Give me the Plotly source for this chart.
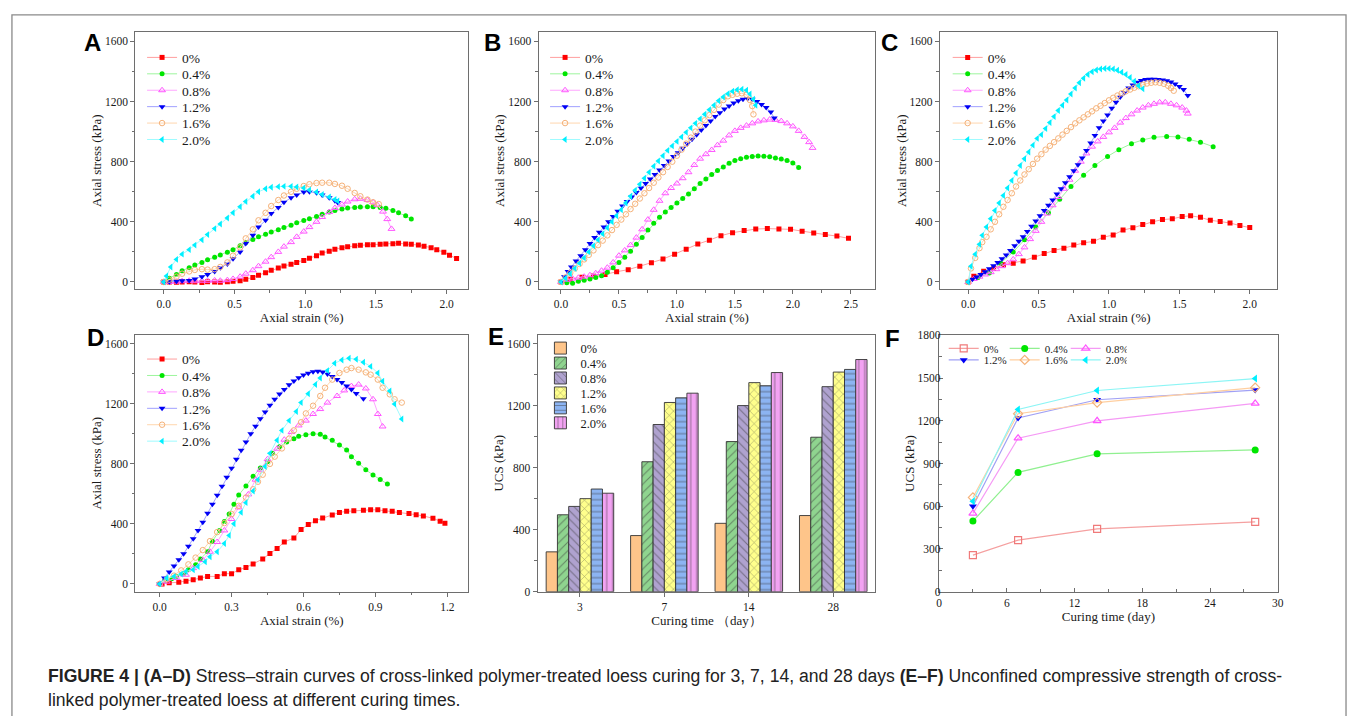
import plotly.graph_objects as go

W, H = 1355, 716
SERIF = "Liberation Serif, Times New Roman, serif"
SANS = "Liberation Sans, Arial, sans-serif"
FRAME = "#6e6e6e"
TXT = "#1a1a1a"

# ---------------- data ----------------
series_names = ["0%", "0.4%", "0.8%", "1.2%", "1.6%", "2.0%"]

# Panel A (3 days)
A_x_00 = [0.00,0.04,0.09,0.13,0.18,0.22,0.27,0.31,0.36,0.40,0.45,0.49,0.54,0.58,0.63,0.67,0.72,0.76,0.81,0.85,0.90,0.94,0.99,1.03,1.08,1.12,1.17,1.21,1.26,1.30,1.35,1.39,1.44,1.48,1.53,1.57,1.62,1.66,1.71,1.75,1.80,1.84,1.89,1.93,1.98,2.02,2.07]
A_y_00 = [0,0,-2,0,2,0,-3,2,0,-2,2,4,8,18,30,45,62,78,92,106,118,130,142,158,175,192,205,218,228,235,240,244,247,248,250,252,254,258,252,250,246,238,228,214,198,178,156]
A_x_04 = [0.00,0.04,0.09,0.13,0.18,0.22,0.27,0.31,0.36,0.40,0.45,0.49,0.54,0.58,0.63,0.67,0.72,0.76,0.81,0.85,0.90,0.94,0.99,1.03,1.08,1.12,1.17,1.21,1.26,1.30,1.35,1.39,1.44,1.48,1.53,1.57,1.62,1.66,1.71,1.75]
A_y_04 = [0,25,50,75,95,112,130,148,165,180,198,215,240,262,282,300,318,333,348,362,378,393,408,420,435,450,465,475,485,492,496,498,500,500,496,490,475,460,440,418]
A_x_08 = [0.00,0.04,0.09,0.13,0.18,0.22,0.27,0.31,0.36,0.40,0.45,0.49,0.54,0.58,0.63,0.67,0.72,0.76,0.81,0.85,0.90,0.94,0.99,1.03,1.08,1.12,1.17,1.21,1.26,1.30,1.35,1.39,1.44,1.48,1.51,1.55,1.58,1.61]
A_y_08 = [0,0,2,5,8,5,8,8,10,8,12,20,35,55,78,105,135,165,200,235,265,300,335,365,400,432,465,492,515,535,550,553,545,530,512,468,418,353]
A_x_12 = [0.00,0.04,0.09,0.13,0.18,0.22,0.27,0.31,0.36,0.40,0.45,0.49,0.54,0.58,0.63,0.67,0.72,0.76,0.81,0.85,0.90,0.94,0.99,1.03,1.08,1.12,1.17,1.21,1.23]
A_y_12 = [0,2,5,8,10,20,35,50,70,95,120,155,200,255,310,365,410,455,495,530,560,578,598,600,593,578,560,540,528]
A_x_16 = [0.00,0.04,0.09,0.13,0.18,0.22,0.27,0.31,0.36,0.40,0.45,0.49,0.54,0.58,0.63,0.67,0.72,0.76,0.81,0.85,0.90,0.94,0.99,1.03,1.08,1.12,1.17,1.21,1.26,1.30,1.35,1.39,1.44,1.48,1.52]
A_y_16 = [0,15,35,55,70,80,85,82,85,100,130,175,230,290,350,410,460,505,545,575,600,620,638,650,658,660,660,652,640,620,592,570,548,530,518]
A_x_20 = [0.00,0.02,0.05,0.09,0.13,0.18,0.22,0.27,0.31,0.36,0.40,0.45,0.49,0.54,0.58,0.63,0.67,0.72,0.76,0.81,0.85,0.90,0.94,0.99,1.03,1.08,1.12,1.17,1.21,1.23]
A_y_20 = [0,40,100,150,185,215,245,280,315,355,385,425,460,500,535,570,600,620,630,634,636,636,632,625,612,598,582,565,548,538]

# Panel B (7 days)
B_x_00 = [0.00,0.08,0.18,0.28,0.38,0.48,0.58,0.68,0.78,0.88,0.98,1.08,1.18,1.28,1.38,1.48,1.58,1.68,1.78,1.88,1.98,2.08,2.18,2.28,2.38,2.48]
B_y_00 = [0,18,32,40,50,68,82,105,128,152,185,218,252,278,308,328,342,352,355,352,350,338,325,315,305,290]
B_x_04 = [0.00,0.05,0.10,0.15,0.20,0.25,0.30,0.35,0.40,0.45,0.50,0.55,0.60,0.65,0.70,0.75,0.80,0.85,0.90,0.95,1.00,1.05,1.10,1.15,1.20,1.25,1.30,1.35,1.40,1.45,1.50,1.55,1.60,1.65,1.70,1.75,1.80,1.85,1.90,1.95,2.00,2.05]
B_y_04 = [0,-5,-8,5,12,20,30,42,65,95,130,165,205,250,295,345,390,430,465,495,525,555,585,620,655,685,715,742,765,790,808,820,830,835,838,837,833,825,818,808,792,762]
B_x_08 = [0.00,0.05,0.10,0.15,0.20,0.25,0.30,0.35,0.40,0.45,0.50,0.55,0.60,0.65,0.70,0.75,0.80,0.85,0.90,0.95,1.00,1.05,1.10,1.15,1.20,1.25,1.30,1.35,1.40,1.45,1.50,1.55,1.60,1.65,1.70,1.75,1.80,1.85,1.90,1.95,2.00,2.05,2.10,2.14,2.17]
B_y_08 = [0,15,22,28,35,45,58,75,95,130,175,210,245,295,350,415,480,540,590,625,655,690,730,778,820,850,878,910,940,975,1005,1025,1040,1055,1068,1075,1080,1078,1070,1055,1035,1005,965,930,892]
B_x_12 = [0.00,0.03,0.06,0.09,0.13,0.17,0.21,0.25,0.29,0.33,0.37,0.41,0.45,0.49,0.53,0.57,0.61,0.65,0.69,0.73,0.77,0.81,0.85,0.89,0.93,0.97,1.01,1.05,1.09,1.13,1.17,1.21,1.25,1.29,1.33,1.37,1.41,1.45,1.49,1.53,1.57,1.61,1.65,1.69,1.73,1.77,1.81,1.84]
B_y_12 = [0,35,70,100,140,175,215,255,295,330,365,400,435,470,505,535,565,595,625,655,685,715,745,775,805,835,860,890,920,950,980,1010,1040,1070,1100,1125,1150,1170,1190,1205,1215,1220,1215,1200,1180,1160,1130,1090]
B_x_16 = [0.00,0.04,0.08,0.12,0.16,0.20,0.24,0.28,0.32,0.36,0.40,0.44,0.48,0.52,0.56,0.60,0.64,0.68,0.72,0.76,0.80,0.84,0.88,0.92,0.96,1.00,1.04,1.08,1.12,1.16,1.20,1.24,1.28,1.32,1.36,1.40,1.44,1.48,1.52,1.56,1.60,1.63,1.65,1.66]
B_y_16 = [0,30,60,90,120,150,180,210,245,275,310,345,380,415,450,485,520,555,590,625,660,695,730,765,800,840,880,920,960,1000,1040,1075,1110,1145,1180,1210,1235,1245,1252,1255,1245,1210,1170,1115]
B_x_20 = [0.00,0.04,0.08,0.12,0.16,0.20,0.24,0.28,0.32,0.36,0.40,0.44,0.48,0.52,0.56,0.60,0.64,0.68,0.72,0.76,0.80,0.84,0.88,0.92,0.96,1.00,1.04,1.08,1.12,1.16,1.20,1.24,1.28,1.32,1.36,1.40,1.44,1.48,1.52,1.56,1.60,1.63,1.66,1.68]
B_y_20 = [0,25,55,90,125,160,200,240,280,320,360,400,440,480,525,570,610,650,690,730,770,805,840,875,905,935,965,995,1025,1055,1085,1115,1145,1175,1205,1230,1252,1268,1278,1282,1275,1250,1215,1175]

# Panel C (14 days)
C_x_00 = [0.00,0.04,0.11,0.18,0.25,0.32,0.39,0.47,0.54,0.61,0.68,0.75,0.82,0.89,0.96,1.03,1.10,1.17,1.24,1.31,1.38,1.45,1.52,1.58,1.65,1.72,1.79,1.86,1.93,2.00]
C_y_00 = [0,38,72,90,115,125,140,165,190,210,225,245,260,270,298,312,345,360,382,400,415,420,435,440,430,410,402,392,375,362]
C_x_04 = [0.00,0.07,0.15,0.23,0.32,0.40,0.48,0.57,0.65,0.73,0.82,0.90,0.99,1.07,1.16,1.24,1.32,1.41,1.49,1.57,1.65,1.74]
C_y_04 = [0,30,60,125,200,280,365,460,550,635,710,775,835,880,920,945,962,968,965,950,930,900]
C_x_08 = [0.00,0.04,0.08,0.12,0.16,0.20,0.24,0.28,0.32,0.36,0.40,0.44,0.48,0.52,0.56,0.60,0.64,0.68,0.72,0.76,0.80,0.84,0.88,0.92,0.96,1.00,1.04,1.08,1.12,1.16,1.20,1.24,1.28,1.32,1.36,1.40,1.44,1.48,1.52,1.55,1.56]
C_y_08 = [0,20,35,50,65,85,105,125,150,185,230,285,340,400,455,510,565,620,680,740,800,855,900,935,965,995,1025,1060,1090,1115,1140,1160,1175,1185,1195,1195,1185,1175,1160,1140,1120]
C_x_12 = [0.00,0.03,0.06,0.09,0.12,0.15,0.18,0.21,0.24,0.27,0.30,0.33,0.36,0.39,0.42,0.45,0.48,0.51,0.54,0.57,0.60,0.63,0.66,0.69,0.72,0.75,0.78,0.81,0.84,0.87,0.90,0.93,0.96,0.99,1.02,1.05,1.08,1.11,1.14,1.17,1.20,1.23,1.26,1.29,1.32,1.35,1.38,1.41,1.44,1.47,1.50,1.53,1.56]
C_y_12 = [0,18,33,50,68,88,108,130,155,180,210,240,270,300,335,370,405,440,475,510,545,585,620,660,700,740,780,825,875,925,975,1025,1070,1110,1155,1195,1230,1260,1290,1310,1328,1340,1346,1349,1349,1347,1344,1338,1330,1316,1300,1280,1240]
C_x_16 = [0.00,0.02,0.05,0.08,0.10,0.13,0.16,0.19,0.22,0.25,0.28,0.31,0.34,0.37,0.40,0.43,0.46,0.49,0.52,0.55,0.58,0.61,0.64,0.67,0.70,0.73,0.76,0.79,0.82,0.85,0.88,0.91,0.94,0.97,1.00,1.03,1.06,1.09,1.12,1.15,1.18,1.21,1.24,1.27,1.30,1.33,1.36,1.39,1.42,1.44,1.46]
C_y_16 = [0,90,160,225,265,300,350,400,450,500,545,590,635,675,715,750,785,820,850,880,905,930,955,980,1005,1030,1055,1075,1095,1115,1135,1155,1172,1190,1208,1225,1240,1255,1268,1280,1292,1302,1312,1320,1325,1328,1325,1318,1305,1290,1272]
C_x_20 = [0.00,0.02,0.05,0.08,0.10,0.13,0.16,0.19,0.22,0.25,0.28,0.31,0.34,0.37,0.40,0.43,0.46,0.49,0.52,0.55,0.58,0.61,0.64,0.67,0.70,0.73,0.76,0.79,0.82,0.85,0.88,0.91,0.94,0.97,1.00,1.03,1.06,1.09,1.12,1.15,1.18,1.21,1.24]
C_y_20 = [0,105,185,250,310,365,420,475,525,575,625,675,725,775,820,865,910,955,980,1020,1060,1100,1140,1175,1210,1250,1290,1325,1355,1380,1398,1410,1416,1420,1420,1416,1408,1395,1380,1360,1335,1305,1285]

# Panel D (28 days)
D_x_00 = [0.01,0.04,0.08,0.11,0.14,0.17,0.20,0.24,0.27,0.30,0.33,0.36,0.39,0.43,0.46,0.49,0.52,0.56,0.59,0.62,0.65,0.68,0.72,0.75,0.78,0.81,0.85,0.88,0.91,0.94,0.97,1.00,1.04,1.07,1.10,1.14,1.17,1.19]
D_y_00 = [0,7,11,17,28,39,50,50,68,68,94,109,133,166,203,236,279,306,362,395,421,439,459,476,483,487,491,493,493,487,483,476,469,461,452,437,417,404]
D_x_04 = [0.00,0.02,0.05,0.07,0.10,0.12,0.15,0.17,0.20,0.22,0.25,0.27,0.29,0.31,0.33,0.36,0.39,0.42,0.45,0.47,0.50,0.53,0.56,0.58,0.61,0.64,0.67,0.69,0.72,0.75,0.78,0.80,0.83,0.86,0.89,0.92,0.95]
D_y_04 = [0,22,35,50,68,94,127,166,214,284,356,415,465,530,592,651,716,771,814,869,913,945,967,983,993,1000,996,978,956,924,891,847,803,760,725,695,665]
D_x_08 = [0.00,0.03,0.07,0.11,0.14,0.18,0.21,0.24,0.27,0.30,0.33,0.37,0.40,0.42,0.45,0.49,0.52,0.55,0.58,0.61,0.64,0.67,0.70,0.74,0.77,0.80,0.83,0.86,0.89,0.91,0.93]
D_y_08 = [0,15,39,61,105,159,214,279,356,432,509,596,694,760,830,900,960,1011,1055,1087,1131,1164,1207,1251,1288,1317,1327,1301,1229,1131,1048]
D_x_12 = [0.00,0.02,0.04,0.06,0.08,0.10,0.12,0.14,0.16,0.18,0.20,0.22,0.24,0.26,0.28,0.30,0.32,0.34,0.36,0.38,0.40,0.42,0.44,0.46,0.48,0.50,0.52,0.54,0.56,0.58,0.60,0.62,0.64,0.66,0.68,0.70,0.72,0.74,0.76,0.78,0.80,0.82,0.85]
D_y_12 = [0,40,80,120,160,200,250,300,355,410,470,530,590,650,710,770,830,890,945,1000,1050,1100,1145,1190,1230,1265,1295,1325,1350,1372,1390,1402,1412,1415,1410,1398,1380,1360,1340,1318,1295,1268,1232]
D_x_16 = [0.00,0.03,0.06,0.09,0.12,0.15,0.18,0.21,0.24,0.27,0.30,0.33,0.36,0.39,0.41,0.43,0.46,0.48,0.51,0.54,0.56,0.59,0.61,0.64,0.67,0.69,0.72,0.75,0.78,0.80,0.83,0.86,0.88,0.91,0.93,0.96,0.98,1.01]
D_y_16 = [0,30,55,90,130,175,225,285,345,405,465,520,575,630,680,727,799,847,902,967,1022,1076,1135,1186,1251,1306,1360,1404,1426,1437,1426,1408,1393,1360,1306,1262,1229,1207]
D_x_20 = [0.00,0.03,0.06,0.09,0.11,0.14,0.16,0.19,0.21,0.24,0.27,0.29,0.31,0.34,0.36,0.39,0.41,0.44,0.46,0.49,0.51,0.54,0.57,0.59,0.62,0.65,0.67,0.70,0.73,0.76,0.79,0.82,0.85,0.88,0.91,0.93,0.96,0.98,1.01]
D_y_20 = [0,39,50,66,83,94,116,148,181,214,269,323,400,476,541,618,694,782,869,956,1022,1087,1148,1207,1266,1328,1371,1420,1469,1491,1502,1496,1476,1448,1404,1349,1284,1197,1098]

# Panels E / F : UCS vs curing time
curing_days = [3, 7, 14, 28]
curing_labels = ["3", "7", "14", "28"]
ucs_00 = [257, 362, 441, 491]
ucs_04 = [496, 838, 968, 996]
ucs_08 = [550, 1078, 1200, 1322]
ucs_12 = [600, 1220, 1348, 1416]
ucs_16 = [662, 1250, 1328, 1433]
ucs_20 = [635, 1280, 1413, 1497]

# ---------------- styles ----------------
marker_colors = ["#FF0000", "#00E600", "#FF55FF", "#0000F5", "#F5B27A", "#00F0FF"]
line_colors = ["#FF9E9E", "#9EF59E", "#FFA6FF", "#A0A0FF", "#FFD6AE", "#9EFBFF"]
curve_symbols = ["square", "circle", "triangle-up-open", "triangle-down", "circle-open", "triangle-left"]
curve_sizes = [5, 5, 6, 6, 5.5, 6]
f_symbols = ["square-open", "circle", "triangle-up-open", "triangle-down", "diamond-open", "triangle-left"]
f_marker_colors = ["#F07A7A", "#00E600", "#FF55FF", "#0000F5", "#F5B27A", "#00F0FF"]
f_line_colors = ["#F5A0A0", "#90F090", "#F59AF5", "#A0A0F5", "#FFCFA0", "#8CF5F5"]
bar_fills = ["#FEC58A", "#8FD48F", "#AFA2CF", "#FFFF8C", "#8CB4F2", "#F2A2F2"]
bar_patterns = ["", "/", "\\", "x", "-", "|"]

panel_curves = {
    "A": [(A_x_00, A_y_00), (A_x_04, A_y_04), (A_x_08, A_y_08), (A_x_12, A_y_12), (A_x_16, A_y_16), (A_x_20, A_y_20)],
    "B": [(B_x_00, B_y_00), (B_x_04, B_y_04), (B_x_08, B_y_08), (B_x_12, B_y_12), (B_x_16, B_y_16), (B_x_20, B_y_20)],
    "C": [(C_x_00, C_y_00), (C_x_04, C_y_04), (C_x_08, C_y_08), (C_x_12, C_y_12), (C_x_16, C_y_16), (C_x_20, C_y_20)],
    "D": [(D_x_00, D_y_00), (D_x_04, D_y_04), (D_x_08, D_y_08), (D_x_12, D_y_12), (D_x_16, D_y_16), (D_x_20, D_y_20)],
}
ucs_series = [ucs_00, ucs_04, ucs_08, ucs_12, ucs_16, ucs_20]

# panel boxes in pixels: left, top, right, bottom
boxes = {
    "A": (133.3, 26.7, 468.0, 288.0),
    "B": (539.3, 26.7, 878.0, 288.0),
    "C": (943.3, 26.7, 1283.0, 288.0),
    "D": (133.3, 334.3, 468.3, 595.7),
    "E": (538.3, 334.3, 878.3, 595.7),
    "F": (942.3, 335.0, 1283.3, 595.7),
}
axis_ids = {"A": "", "B": "2", "C": "3", "D": "4", "E": "5", "F": "6"}


def dom(box):
    x0, y0, x1, y1 = box
    return [x0 / W, x1 / W], [1 - y1 / H, 1 - y0 / H]


legends = {}
_leg_count = [0]


def new_legend(x_px, y_px, size, orientation="v", entrywidth=None):
    _leg_count[0] += 1
    name = "legend" if _leg_count[0] == 1 else "legend%d" % _leg_count[0]
    d = dict(x=x_px / W, y=1 - y_px / H, xanchor="left", yanchor="middle",
             bgcolor="rgba(0,0,0,0)", borderwidth=0, orientation=orientation,
             font=dict(family=SERIF, size=size, color=TXT), tracegroupgap=0)
    if entrywidth is not None:
        d["entrywidth"] = entrywidth
        d["entrywidthmode"] = "pixels"
    legends[name] = d
    return name


fig = go.Figure()

# ---- curve panels A-D ----
legend_x = {"A": 140.0, "B": 545.7, "C": 951.0, "D": 140.0}
legend_y0 = {"A": 52.5, "B": 52.5, "C": 52.5, "D": 359.3}
legend_dy = 16.7
for p, curves in panel_curves.items():
    aid = axis_ids[p]
    for i, (xs, ys) in enumerate(curves):
        lg = new_legend(legend_x[p], legend_y0[p] + legend_dy * i, 13.5)
        fig.add_trace(go.Scatter(
            x=xs, y=ys, mode="lines+markers", name=series_names[i],
            line=dict(color=line_colors[i], width=1),
            marker=dict(symbol=curve_symbols[i], size=curve_sizes[i], color=marker_colors[i],
                        line=dict(color=marker_colors[i], width=1 if "open" in curve_symbols[i] else 0)),
            xaxis="x" + aid, yaxis="y" + aid, legend=lg))

# ---- bar panel E ----
for i, vals in enumerate(ucs_series):
    lg = new_legend(541.0, 348.3 + 15.2 * i, 12.5)
    pat = dict(shape=bar_patterns[i], fgcolor="#3a3a3a", fillmode="overlay", size=6, solidity=0.18)
    fig.add_trace(go.Bar(
        x=curing_labels, y=vals, name=series_names[i],
        marker=dict(color=bar_fills[i], line=dict(color="#333333", width=0.9), pattern=pat),
        xaxis="x5", yaxis="y5", legend=lg))

# ---- line panel F ----
f_leg_rows = [new_legend(947.0, 348.3, 11, "h", 16), new_legend(947.0, 360.0, 11, "h", 16)]
for i, vals in enumerate(ucs_series):
    fig.add_trace(go.Scatter(
        x=curing_days, y=vals, mode="lines+markers", name=series_names[i],
        line=dict(color=f_line_colors[i], width=1.2),
        marker=dict(symbol=f_symbols[i], size=7, color=f_marker_colors[i],
                    line=dict(color=f_marker_colors[i], width=1.2 if "open" in f_symbols[i] else 0)),
        xaxis="x6", yaxis="y6", legend=f_leg_rows[i // 3]))


# ---------------- axes ----------------
def base_axis(**kw):
    d = dict(showline=True, linecolor=FRAME, linewidth=1.3, mirror=True, showgrid=False,
             zeroline=False, ticks="outside", ticklen=4, tickwidth=1, tickcolor=FRAME,
             tickfont=dict(family=SERIF, size=11.5, color=TXT))
    d.update(kw)
    return d


def title(text, standoff):
    return dict(text=text, font=dict(family=SERIF, size=13, color=TXT), standoff=standoff)


xranges = {"A": [-0.2, 2.15], "B": [-0.192, 2.71], "C": [-0.2, 2.197], "D": [-0.101, 1.287]}
yranges = {"A": [-48, 1661], "B": [-48, 1661], "C": [-48, 1661], "D": [-52, 1659]}
xdticks = {"A": 0.5, "B": 0.5, "C": 0.5, "D": 0.3}
layout_axes = {}
for p in ["A", "B", "C", "D"]:
    aid = axis_ids[p]
    xd, yd = dom(boxes[p])
    layout_axes["xaxis" + aid] = base_axis(
        domain=xd, anchor="y" + aid, range=xranges[p], tick0=0, dtick=xdticks[p],
        tickformat=".1f", minor=dict(ticks="outside", ticklen=2.5, dtick=xdticks[p] / 2, tick0=0, tickcolor=FRAME),
        title=title("Axial strain (%)", 1))
    layout_axes["yaxis" + aid] = base_axis(
        domain=yd, anchor="x" + aid, range=yranges[p], tick0=0, dtick=400,
        minor=dict(ticks="outside", ticklen=2.5, dtick=200, tick0=0, tickcolor=FRAME),
        title=title("Axial stress (kPa)", 0))

xd, yd = dom(boxes["E"])
layout_axes["xaxis5"] = base_axis(domain=xd, anchor="y5", type="category", range=[-0.5, 3.5],
                                  title=title("Curing time （day）", 3))
layout_axes["yaxis5"] = base_axis(domain=yd, anchor="x5", range=[0, 1657], tick0=0, dtick=400,
                                  minor=dict(ticks="outside", ticklen=2.5, dtick=200, tick0=0, tickcolor=FRAME),
                                  title=title("UCS (kPa)", 0))
xd, yd = dom(boxes["F"])
layout_axes["xaxis6"] = base_axis(domain=xd, anchor="y6", range=[0, 30], tick0=0, dtick=6, ticks="inside",
                                  minor=dict(ticks="inside", ticklen=2.5, dtick=3, tick0=0, tickcolor=FRAME),
                                  title=title("Curing time (day)", 4))
layout_axes["yaxis6"] = base_axis(domain=yd, anchor="x6", range=[0, 1800], tick0=0, dtick=300, ticks="inside",
                                  ticklabelstandoff=-5,
                                  minor=dict(ticks="inside", ticklen=2.5, dtick=150, tick0=0, tickcolor=FRAME),
                                  title=title("UCS (kPa)", 0))

# ---------------- annotations ----------------
annotations = []
letters = {"A": (90, 36.7), "B": (492.5, 36.7), "C": (892.5, 36.7),
           "D": (93.3, 336.7), "E": (495.8, 336.5), "F": (895.5, 338.0)}
for L, (lx, ly) in letters.items():
    annotations.append(dict(text="<b>%s</b>" % L, x=lx / W, y=1 - ly / H, xref="paper", yref="paper",
                            xanchor="center", yanchor="middle", showarrow=False,
                            font=dict(family=SANS, size=24, color="#000000")))

cap1 = ("<b>FIGURE 4 | (A–D)</b> Stress–strain curves of cross-linked polymer-treated loess curing for 3, 7, 14, "
        "and 28 days <b>(E–F)</b> Unconfined compressive strength of cross-")
cap2 = "linked polymer-treated loess at different curing times."
for txt, cy in [(cap1, 681), (cap2, 706)]:
    annotations.append(dict(text=txt, x=43 / W, y=1 - cy / H, xref="paper", yref="paper",
                            xanchor="left", yanchor="middle", showarrow=False, align="left",
                            font=dict(family=SANS, size=17.6, color="#222222")))

shapes = [dict(type="rect", xref="paper", yref="paper", x0=9 / W, x1=1352 / W, y0=-0.05, y1=1 - 9 / H,
               line=dict(color="#8a8a8a", width=1.3), fillcolor="rgba(0,0,0,0)", layer="below")]

fig.update_layout(
    width=W, height=H, margin=dict(l=0, r=0, t=0, b=0),
    paper_bgcolor="white", plot_bgcolor="white",
    barmode="group", bargap=0.2, bargroupgap=0,
    showlegend=True, annotations=annotations, shapes=shapes,
    **layout_axes, **legends)

fig.write_html("out.html")
